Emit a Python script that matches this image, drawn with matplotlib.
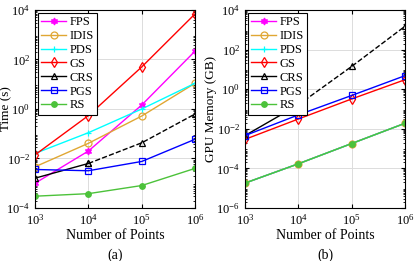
import numpy as np
import matplotlib.pyplot as plt
from matplotlib.ticker import LogLocator, NullFormatter

plt.rcParams['font.family'] = ['Liberation Serif', 'DejaVu Serif']
plt.rcParams['mathtext.fontset'] = 'stix'

# number of points
n_points = [1e3, 1e4, 1e5, 1e6]
methods = ['FPS', 'IDIS', 'PDS', 'GS', 'CRS', 'PGS', 'RS']

# (a) runtime in seconds
time_fps = [0.001, 0.02, 1.45, 220]
time_idis = [0.0046, 0.041, 0.52, 11]
time_pds = [0.016, 0.11, 1.0, 11]
time_gs = [0.014, 0.54, 50, 7000]
time_crs = [0.0016, 0.0063, 0.043, 0.63]
time_pgs = [0.0036, 0.0032, 0.0076, 0.06]
time_rs = [0.0003, 0.00038, 0.00081, 0.004]

# (b) GPU memory in GB
mem_fps = [1.8e-5, 1.7e-4, 1.8e-3, 0.019]
mem_idis = [1.8e-5, 1.7e-4, 1.8e-3, 0.019]
mem_pds = [1.8e-5, 1.7e-4, 1.8e-3, 0.019]
mem_gs = [0.0029, 0.031, 0.32, 3.0]
mem_crs = [0.0045, 0.16, 14, 1500]
mem_pgs = [0.0045, 0.05, 0.48, 4.8]
mem_rs = [1.8e-5, 1.7e-4, 1.8e-3, 0.019]

colors = {'FPS': '#ff00ff', 'IDIS': '#e0a733', 'PDS': '#00ffff', 'GS': '#ff0000',
          'CRS': '#000000', 'PGS': '#0000ff', 'RS': '#4cc23a'}
markers = {'FPS': (6, 1, 0), 'IDIS': 'o', 'PDS': '+', 'GS': 'd',
           'CRS': '^', 'PGS': 's', 'RS': 'o'}


def draw(ax, data, ylim, yticks, ylabel, label_x, panel):
    for name in methods:
        y = data[name]
        c = colors[name]
        filled = name in ('FPS', 'RS')
        kw = dict(color=c, marker=markers[name], markersize=5 if name != 'RS' else 4,
                  markerfacecolor=c if filled else 'none', markeredgecolor=c,
                  linewidth=1.0, markeredgewidth=0.9)
        if name == 'CRS':
            ax.plot(n_points[:2], y[:2], label=name, **kw)
            ax.plot(n_points[1:], y[1:], linestyle='--', **kw)
        else:
            ax.plot(n_points, y, label=name, **kw)
    ax.set_xscale('log')
    ax.set_yscale('log')
    ax.set_xlim(1e3, 1e6)
    ax.set_ylim(*ylim)
    ax.set_xticks(n_points)
    ax.set_yticks(yticks)
    ax.yaxis.set_minor_locator(LogLocator(base=10, subs=np.arange(2, 10), numticks=20))
    ax.yaxis.set_minor_formatter(NullFormatter())
    ax.xaxis.set_minor_formatter(NullFormatter())
    ax.xaxis.set_minor_locator(plt.NullLocator())
    ax.grid(True, which='major', color='#dcdcdc', linewidth=0.7)
    ax.set_axisbelow(True)
    ax.tick_params(which='both', direction='in', top=True, right=True, labelsize=9)
    ax.tick_params(which='major', length=3)
    ax.tick_params(which='minor', length=1.5)
    for s in ax.spines.values():
        s.set_linewidth(0.8)
    ax.set_ylabel(ylabel, fontsize=9.5)
    ax.yaxis.set_label_coords(label_x, 0.5)
    ax.set_xlabel('Number of Points', fontsize=10, labelpad=1)
    ax.text(0.5, -0.205, panel, transform=ax.transAxes, ha='center', va='top', fontsize=10)
    leg = ax.legend(loc='upper left', fontsize=9, frameon=True, fancybox=False,
                    edgecolor='black', framealpha=1, borderpad=0.25, labelspacing=0.15,
                    handlelength=2.0, handletextpad=0.25, borderaxespad=0.25)
    leg.get_frame().set_linewidth(0.8)


fig = plt.figure(figsize=(4.15, 2.61), dpi=100)
ax1 = fig.add_axes([0.0843, 0.203, 0.386, 0.759])
ax2 = fig.add_axes([0.590, 0.203, 0.386, 0.759])

time_data = {'FPS': time_fps, 'IDIS': time_idis, 'PDS': time_pds, 'GS': time_gs,
             'CRS': time_crs, 'PGS': time_pgs, 'RS': time_rs}
mem_data = {'FPS': mem_fps, 'IDIS': mem_idis, 'PDS': mem_pds, 'GS': mem_gs,
            'CRS': mem_crs, 'PGS': mem_pgs, 'RS': mem_rs}

draw(ax1, time_data, (1e-4, 1e4), [1e-4, 1e-2, 1e0, 1e2, 1e4], 'Time (s)', -0.14, '(a)')
draw(ax2, mem_data, (1e-6, 1e4), [1e-6, 1e-4, 1e-2, 1e0, 1e2, 1e4], 'GPU Memory (GB)', -0.175, '(b)')

fig.savefig('out.png', dpi=100)
